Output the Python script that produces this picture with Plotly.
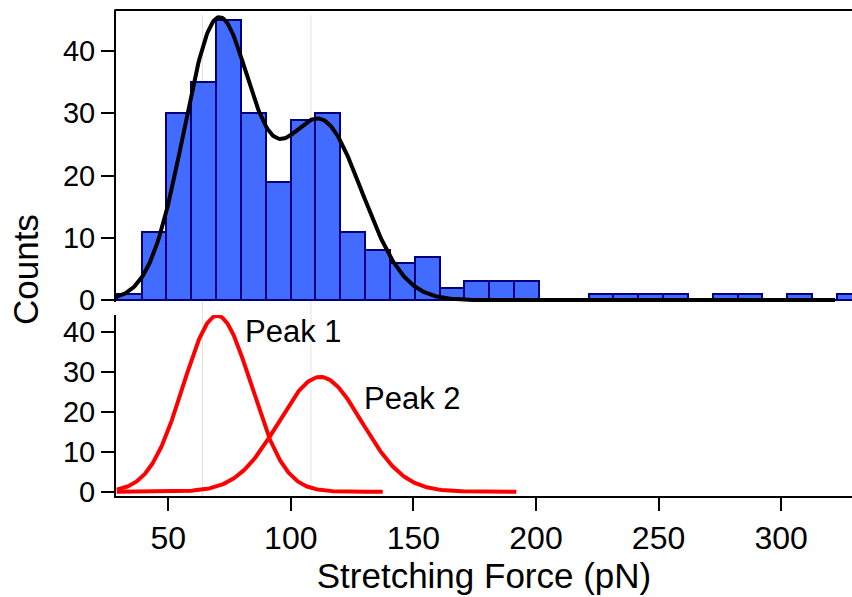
import numpy as np
import plotly.graph_objects as go

# Histogram of stretching forces (pN): bin layout and counts
bin_start = 29.0
bin_width = 10.13
counts = [1, 11, 30, 35, 45, 30, 19, 29, 30, 11, 8, 6, 7, 2, 3, 3, 3, 0, 0,
          1, 1, 1, 1, 0, 1, 1, 0, 1, 0, 1]

# Two-Gaussian fit: amplitude, centre, width
peak1 = dict(amp=44.0, mu=70.0, sigma=13.8)
peak2 = dict(amp=28.7, mu=112.0, sigma=17.0)

# x extents over which each fitted curve is drawn
fit_range = (29.0, 322.0)
peak1_range = (29.0, 137.5)
peak2_range = (29.0, 192.0)

# light reference lines
ref_lines = [64.0, 108.2]

peak_labels = ["Peak 1", "Peak 2"]
label_pos = [(80.6, 40.0), (128.9, 23.4)]

x_range = [28.7, 328.9]
x_ticks = [50, 100, 150, 200, 250, 300]
y_ticks = [0, 10, 20, 30, 40]


def gauss(x, p):
    return p["amp"] * np.exp(-(x - p["mu"]) ** 2 / (2 * p["sigma"] ** 2))


centers = [bin_start + bin_width * (i + 0.5) for i in range(len(counts))]

xs_fit = np.linspace(*fit_range, 600)
xs_p1 = np.linspace(*peak1_range, 300)
xs_p2 = np.linspace(*peak2_range, 300)

FONT = "Liberation Sans, Arial, Helvetica, sans-serif"

fig = go.Figure()

fig.add_trace(go.Bar(
    x=centers, y=counts, width=bin_width,
    marker=dict(color="rgb(66,108,255)", line=dict(color="#00007a", width=2)),
    xaxis="x2", yaxis="y2", showlegend=False,
))
fig.add_trace(go.Scatter(
    x=xs_fit, y=gauss(xs_fit, peak1) + gauss(xs_fit, peak2), mode="lines",
    line=dict(color="black", width=4), xaxis="x2", yaxis="y2", showlegend=False,
))
fig.add_trace(go.Scatter(
    x=xs_p1, y=gauss(xs_p1, peak1), mode="lines",
    line=dict(color="#ff0000", width=4), xaxis="x", yaxis="y", showlegend=False,
))
fig.add_trace(go.Scatter(
    x=xs_p2, y=gauss(xs_p2, peak2), mode="lines",
    line=dict(color="#ff0000", width=4), xaxis="x", yaxis="y", showlegend=False,
))

shapes = []
for xv in ref_lines:
    shapes.append(dict(type="line", xref="x", yref="paper", x0=xv, x1=xv, y0=0, y1=0.99,
                       line=dict(color="#e2e2e2", width=1), layer="below"))
# frame line across the top of the histogram panel
shapes.append(dict(type="line", xref="paper", yref="paper", x0=-0.002, x1=1, y0=1.0, y1=1.0,
                   line=dict(color="black", width=2)))

annotations = []
for txt, (ax, ay) in zip(peak_labels, label_pos):
    annotations.append(dict(text=txt, x=ax, y=ay, xref="x", yref="y", showarrow=False,
                            xanchor="left", yanchor="middle",
                            font=dict(family=FONT, size=31, color="black")))
annotations.append(dict(text="Counts", x=-0.1236, y=0.465, xref="paper", yref="paper",
                        showarrow=False, textangle=-90, xanchor="center", yanchor="middle",
                        font=dict(family=FONT, size=35, color="black")))

axis_common = dict(showgrid=False, zeroline=False, ticks="outside", ticklen=13, tickwidth=2,
                   tickcolor="black", linecolor="black", linewidth=2)
x_tickfont = dict(family=FONT, size=32, color="black")
y_tickfont = dict(family=FONT, size=29, color="black")

fig.update_layout(
    width=852, height=597,
    margin=dict(l=116, r=0, t=10, b=101),
    paper_bgcolor="white", plot_bgcolor="white",
    bargap=0,
    xaxis=dict(domain=[0, 1], anchor="y", range=x_range, tickvals=x_ticks,
               showline=True, tickfont=x_tickfont, **axis_common,
               title=dict(text="Stretching Force (pN)", standoff=6,
                          font=dict(family=FONT, size=35, color="black"))),
    yaxis=dict(domain=[0, 0.3724], anchor="x", range=[-1.08, 44.18], tickvals=y_ticks,
               showline=True, tickfont=y_tickfont, **axis_common),
    xaxis2=dict(domain=[0, 1], anchor="y2", range=x_range, matches="x", visible=False),
    yaxis2=dict(domain=[0.399, 1], anchor="x2", range=[-0.32, 46.6], tickvals=y_ticks,
                showline=True, tickfont=y_tickfont, **axis_common),
    shapes=shapes,
    annotations=annotations,
)

fig.write_html("out.html")
